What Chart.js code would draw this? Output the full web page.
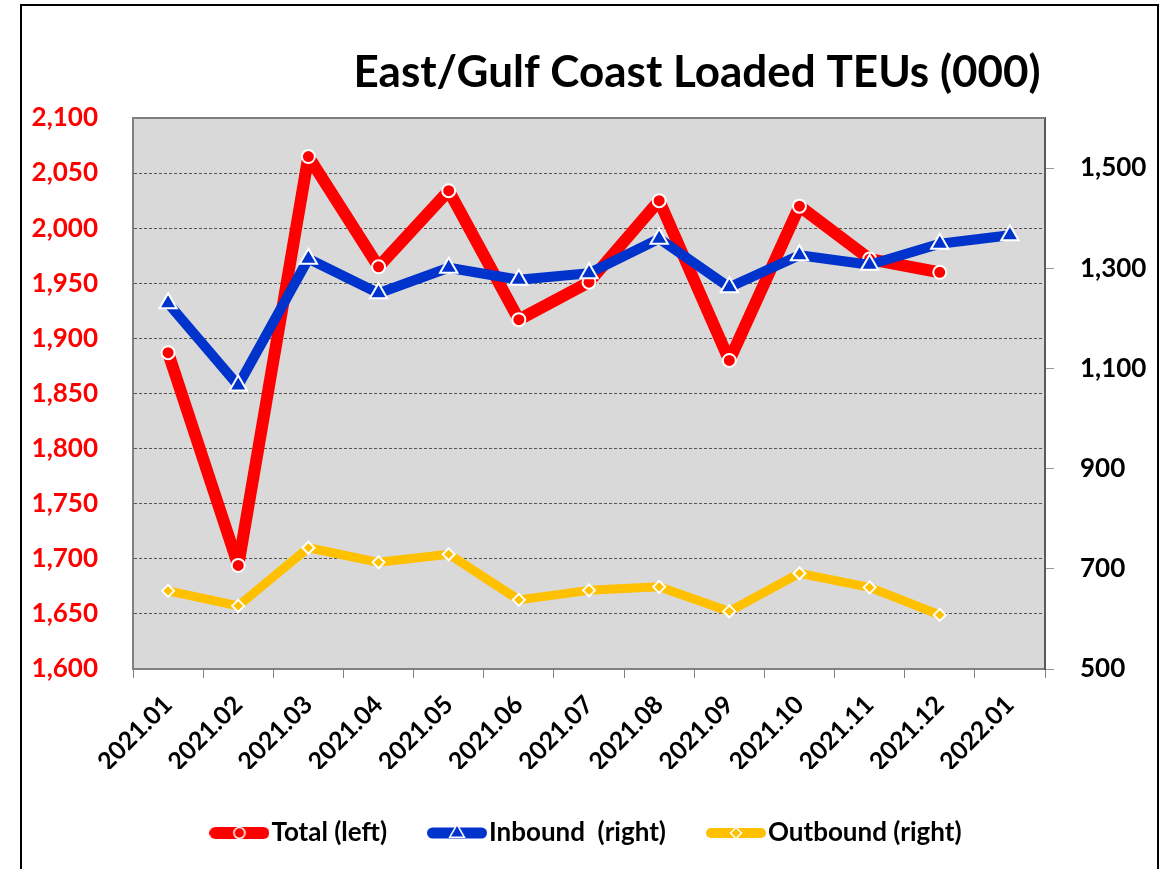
<!DOCTYPE html>
<html>
<head>
<meta charset="utf-8">
<script src="https://cdn.jsdelivr.net/npm/chart.js@4.4.1/dist/chart.umd.min.js"></script>
<style>
  html, body { margin: 0; padding: 0; background: #fff; }
  #wrap { position: relative; width: 1168px; height: 869px; overflow: hidden; }
  #frame { position: absolute; left: 20px; top: 4px; width: 1139px; height: 900px;
           border: 2px solid #000; box-sizing: border-box; pointer-events: none; }
  canvas { position: absolute; left: 0; top: 0; }
</style>
</head>
<body>
<div id="wrap">
  <canvas id="teuChart" width="1168" height="869"></canvas>
  <div id="frame"></div>
</div>
<script>
// ── Data (thousand TEUs) ──────────────────────
const months = ['2021.01', '2021.02', '2021.03', '2021.04', '2021.05', '2021.06', '2021.07',
                '2021.08', '2021.09', '2021.10', '2021.11', '2021.12', '2022.01'];
const totalLeft = [1887, 1694, 2065, 1965, 2034, 1917, 1951, 2025, 1880, 2020, 1972, 1960, null];
const inboundRight = [1230, 1066, 1319, 1250, 1301, 1277, 1290, 1359, 1262, 1326, 1307, 1349, 1366];
const outboundRight = [656, 626, 742, 713, 729, 638, 657, 664, 615, 691, 663, 608, null];
const leftTicks = [1600, 1650, 1700, 1750, 1800, 1850, 1900, 1950, 2000, 2050, 2100];
const rightTicks = [500, 700, 900, 1100, 1300, 1500];
const titleText = 'East/Gulf Coast Loaded TEUs (000)';

const FONT = 'Lato, "Open Sans", sans-serif';
const RED = '#ff0000', BLUE = '#0033cc', GOLD = '#ffc000';

// ── Legend swatch: line with marker in the middle ──
function swatch(color, lineW, style, radius) {
  const c = document.createElement('canvas');
  c.width = 60; c.height = 16;
  const g = c.getContext('2d');
  g.strokeStyle = color;
  g.lineWidth = lineW;
  g.lineCap = 'round';
  g.beginPath();
  g.moveTo(lineW / 2, 8);
  g.lineTo(60 - lineW / 2, 8);
  g.stroke();
  g.fillStyle = color;
  g.strokeStyle = '#fff';
  g.lineWidth = 1.5;
  Chart.helpers.drawPoint(g, { pointStyle: style, radius: radius, borderWidth: 1.5, rotation: 0 }, 30, 8);
  return c;
}
const swatches = [swatch(RED, 12, 'circle', 5.5), swatch(BLUE, 11, 'triangle', 8.5), swatch(GOLD, 10, 'rectRot', 5.5)];

// ── Plot background + top edge ────────────────
const plotFrame = {
  id: 'plotFrame',
  beforeDraw(chart) {
    const { ctx, chartArea: a } = chart;
    ctx.save();
    ctx.fillStyle = '#d9d9d9';
    ctx.fillRect(a.left, a.top, a.right - a.left, a.bottom - a.top);
    ctx.restore();
  },
  beforeDatasetsDraw(chart) {
    const { ctx, chartArea: a } = chart;
    ctx.save();
    ctx.strokeStyle = '#808080';
    ctx.lineWidth = 2;
    ctx.beginPath();
    ctx.moveTo(a.left, a.top);
    ctx.lineTo(a.right, a.top);
    ctx.stroke();
    ctx.restore();
  }
};

// ── Title, offset right like the original ─────
const topTitle = {
  id: 'topTitle',
  afterDraw(chart) {
    const ctx = chart.ctx;
    ctx.save();
    ctx.font = 'bold 44px ' + FONT;
    ctx.fillStyle = '#000';
    ctx.textAlign = 'center';
    ctx.textBaseline = 'middle';
    ctx.fillText(titleText, 697, 73);
    ctx.restore();
  }
};

const lineCommon = {
  tension: 0,
  borderJoinStyle: 'round',
  borderCapStyle: 'round',
  pointBorderColor: '#fff',
  pointBorderWidth: 2
};

new Chart(document.getElementById('teuChart'), {
  type: 'line',
  data: {
    labels: months,
    datasets: [{
      ...lineCommon,
      label: 'Total (left)',
      data: totalLeft,
      yAxisID: 'y',
      borderColor: RED,
      backgroundColor: RED,
      borderWidth: 12,
      pointStyle: 'circle',
      pointRadius: 6.5,
      pointBackgroundColor: RED,
      order: 3
    }, {
      ...lineCommon,
      label: 'Inbound  (right)',
      data: inboundRight,
      yAxisID: 'y2',
      borderColor: BLUE,
      backgroundColor: BLUE,
      borderWidth: 10,
      pointStyle: 'triangle',
      pointRadius: 10,
      pointBackgroundColor: BLUE,
      order: 2
    }, {
      ...lineCommon,
      label: 'Outbound (right)',
      data: outboundRight,
      yAxisID: 'y2',
      borderColor: GOLD,
      backgroundColor: GOLD,
      borderWidth: 9,
      pointStyle: 'rectRot',
      pointRadius: 6,
      pointBackgroundColor: GOLD,
      order: 1
    }]
  },
  options: {
    responsive: false,
    animation: false,
    layout: { padding: { top: 118, left: 14, right: 0, bottom: 13 } },
    plugins: {
      tooltip: { enabled: false },
      legend: {
        position: 'bottom',
        labels: {
          usePointStyle: true,
          pointStyleWidth: 38,
          boxHeight: 16,
          padding: 51,
          color: '#000',
          font: { family: FONT, size: 26, weight: 'bold' },
          sort: (a, b) => a.datasetIndex - b.datasetIndex,
          generateLabels(chart) {
            const items = Chart.defaults.plugins.legend.labels.generateLabels(chart);
            items.forEach(it => { it.pointStyle = swatches[it.datasetIndex]; it.rotation = 0; });
            return items;
          }
        }
      }
    },
    scales: {
      x: {
        offset: true,
        grid: { offset: true, drawOnChartArea: false, drawTicks: true, tickLength: 9, color: '#808080' },
        border: { color: '#808080', width: 2 },
        ticks: {
          autoSkip: false, minRotation: 45, maxRotation: 45, padding: 12,
          color: '#000', font: { family: FONT, size: 25, weight: 'bold' }
        },
        afterFit(s) { s.height = 100; }
      },
      y: {
        position: 'left',
        min: 1600, max: 2100,
        afterBuildTicks(s) { s.ticks = leftTicks.map(v => ({ value: v })); },
        grid: { color: '#555', lineWidth: 1, drawTicks: false },
        border: { color: '#808080', width: 2, dash: [3, 2] },
        ticks: {
          padding: 35, color: RED,
          font: { family: FONT, size: 26, weight: 'bold' },
          callback: v => v.toLocaleString('en-US')
        },
        afterFit(s) { s.width = 119; }
      },
      y2: {
        position: 'right',
        min: 500, max: 1600,
        afterBuildTicks(s) { s.ticks = rightTicks.map(v => ({ value: v })); },
        grid: { drawOnChartArea: false, drawTicks: true, tickLength: 9, color: '#999' },
        border: { color: '#595959', width: 2 },
        ticks: {
          padding: 26, color: '#000',
          font: { family: FONT, size: 26, weight: 'bold' },
          callback: v => v.toLocaleString('en-US')
        },
        afterFit(s) { s.width = 123; }
      }
    }
  },
  plugins: [plotFrame, topTitle]
});
</script>
</body>
</html>
